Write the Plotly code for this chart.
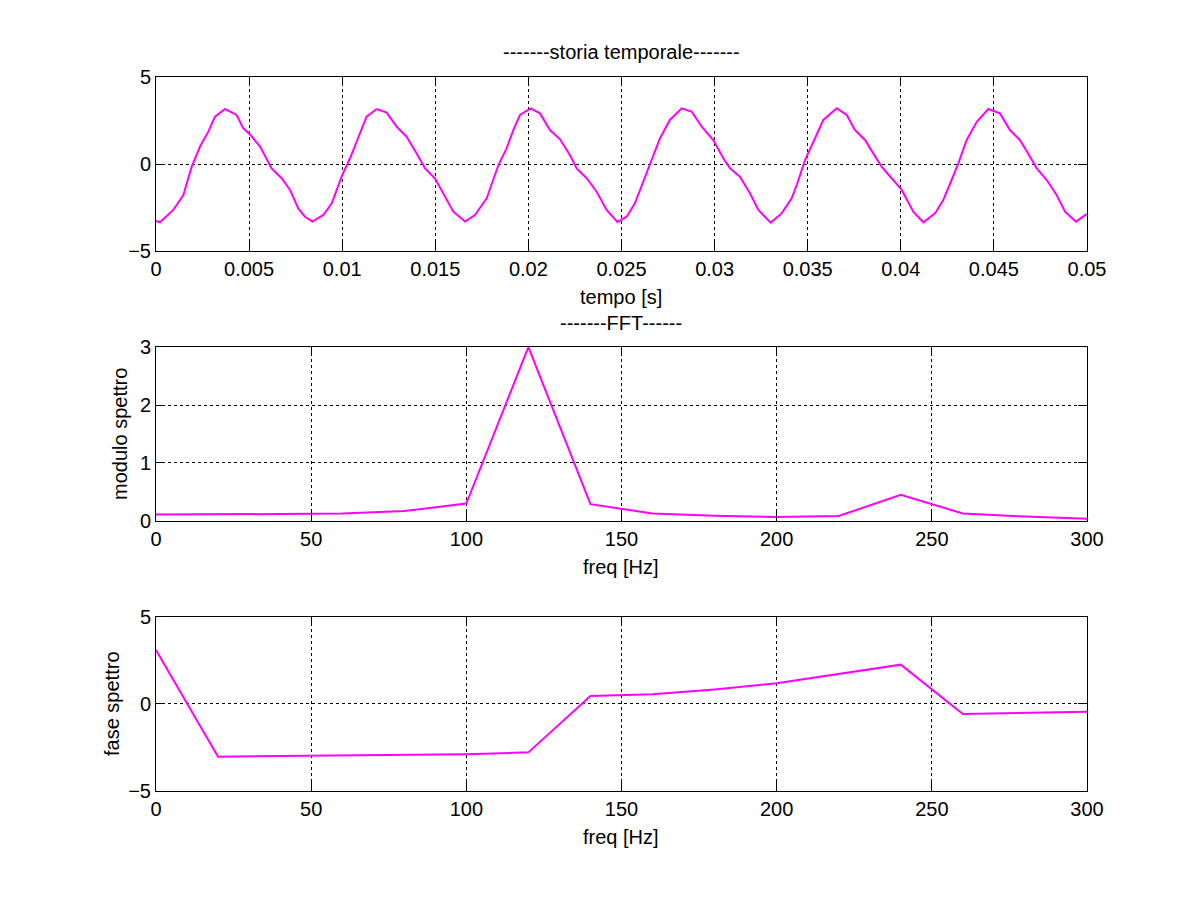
import plotly.graph_objects as go

# storia temporale
tempo = [0.0, 0.00021, 0.00093, 0.00147, 0.00192, 0.00236, 0.00281, 0.00317, 0.00371,
         0.00433, 0.00469, 0.00505, 0.00559, 0.00621, 0.00675, 0.0072, 0.00764, 0.008,
         0.0084, 0.00899, 0.00944, 0.00997, 0.01042, 0.01096, 0.01131, 0.01185, 0.01239,
         0.01293, 0.01346, 0.014, 0.01445, 0.01498, 0.01543, 0.01597, 0.0166, 0.01713,
         0.01776, 0.01839, 0.01883, 0.01919, 0.01955, 0.02012, 0.02062, 0.02116, 0.0217,
         0.02223, 0.02259, 0.02313, 0.02367, 0.0242, 0.02478, 0.02528, 0.02572, 0.02617,
         0.02662, 0.02707, 0.0276, 0.02823, 0.02877, 0.02931, 0.02993, 0.03047, 0.03083,
         0.03136, 0.0319, 0.03235, 0.03301, 0.0336, 0.03414, 0.03441, 0.03486, 0.0353,
         0.03584, 0.03656, 0.0371, 0.03754, 0.03808, 0.03852, 0.03897, 0.03951, 0.04005,
         0.04067, 0.04121, 0.04184, 0.04228, 0.04273, 0.04309, 0.04354, 0.04408, 0.0447,
         0.04533, 0.04586, 0.0464, 0.04694, 0.0473, 0.04784, 0.04837, 0.04882, 0.04941,
         0.04998]
segnale = [-3.28, -3.35, -2.64, -1.78, -0.15, 0.99, 1.86, 2.72, 3.16,
           2.82, 2.05, 1.70, 1.0, -0.25, -0.82, -1.49, -2.55, -3.03,
           -3.31, -2.93, -2.26, -0.73, 0.33, 1.76, 2.72, 3.16, 2.95,
           2.14, 1.57, 0.61, -0.25, -0.82, -1.68, -2.74, -3.31, -2.93,
           -1.97, -0.06, 0.90, 1.95, 2.82, 3.20, 2.91, 1.95, 1.42,
           0.52, -0.25, -0.82, -1.59, -2.64, -3.33, -3.03, -2.26, -1.02,
           0.23, 1.48, 2.53, 3.20, 3.01, 2.14, 1.38, 0.33, -0.25,
           -0.73, -1.68, -2.64, -3.37, -2.84, -1.97, -1.21, 0.23, 1.28,
           2.53, 3.20, 2.82, 1.95, 1.38, 0.61, -0.15, -0.82, -1.49,
           -2.74, -3.35, -2.84, -2.07, -0.92, 0.04, 1.38, 2.43, 3.16,
           2.91, 1.95, 1.38, 0.42, -0.25, -0.92, -1.78, -2.74, -3.31,
           -2.87]

# FFT
freq = [0, 20, 40, 60, 80, 100, 120, 140, 160, 180, 200, 220, 240, 260, 280, 300]
modulo = [0.11, 0.11, 0.12, 0.13, 0.17, 0.30, 3.0, 0.29, 0.13, 0.09, 0.07, 0.086,
          0.45, 0.13, 0.075, 0.04]
fase = [3.10, -3.03, -2.99, -2.95, -2.92, -2.89, -2.78, 0.46, 0.56, 0.84, 1.19, 1.72,
        2.26, -0.57, -0.50, -0.44]

MAG = "#ff00ff"
FONT = "Liberation Sans, Arial, sans-serif"
FS = 20

fig = go.Figure()
fig.add_trace(go.Scatter(x=tempo, y=segnale, mode="lines", line=dict(color=MAG, width=2),
                         xaxis="x", yaxis="y"))
fig.add_trace(go.Scatter(x=freq, y=modulo, mode="lines", line=dict(color=MAG, width=2),
                         xaxis="x2", yaxis="y2"))
fig.add_trace(go.Scatter(x=freq, y=fase, mode="lines", line=dict(color=MAG, width=2),
                         xaxis="x3", yaxis="y3"))

ax = dict(showline=True, linecolor="black", linewidth=1, mirror="allticks",
          ticks="inside", ticklen=9, tickcolor="black", showgrid=True,
          gridcolor="black", griddash="dot", gridwidth=1, zeroline=False,
          tickfont=dict(size=FS, color="black", family=FONT))

# the page has an 8px body margin, so the figure is 16px smaller than the window
fig.update_layout(
    width=1185, height=885,
    margin=dict(l=148, r=106, t=69, b=102),
    paper_bgcolor="white", plot_bgcolor="white",
    showlegend=False,
    font=dict(family=FONT, size=FS, color="black"),
    xaxis=dict(ax, domain=[0, 1], range=[0, 0.05], tickvals=[i * 0.005 for i in range(11)],
               ticktext=["0", "0.005", "0.01", "0.015", "0.02", "0.025", "0.03", "0.035",
                         "0.04", "0.045", "0.05"], anchor="y"),
    yaxis=dict(ax, domain=[0.7563, 1], range=[-5, 5], tickvals=[-5, 0, 5], anchor="x"),
    xaxis2=dict(ax, domain=[0, 1], range=[0, 300], tickvals=[0, 50, 100, 150, 200, 250, 300],
                anchor="y2"),
    yaxis2=dict(ax, domain=[0.3782, 0.6218], range=[0, 3], tickvals=[0, 1, 2, 3], anchor="x2"),
    xaxis3=dict(ax, domain=[0, 1], range=[0, 300], tickvals=[0, 50, 100, 150, 200, 250, 300],
                anchor="y3"),
    yaxis3=dict(ax, domain=[0, 0.2437], range=[-5, 5], tickvals=[-5, 0, 5], anchor="x3"),
)

def px_y(p):
    return (791 - p) / 714

def px_x(p):
    return (p - 156) / 931

labels = [
    ("-------storia temporale-------", px_x(621), px_y(52), 0),
    ("tempo [s]", px_x(621), px_y(297), 0),
    ("-------FFT------", px_x(621), px_y(323), 0),
    ("freq [Hz]", px_x(621), px_y(567), 0),
    ("freq [Hz]", px_x(621), px_y(837), 0),
    ("modulo spettro", px_x(120), px_y(434), -90),
    ("fase spettro", px_x(112), px_y(704), -90),
]
for txt, x, y, ang in labels:
    fig.add_annotation(text=txt, x=x, y=y, xref="paper", yref="paper", showarrow=False,
                       xanchor="center", yanchor="middle", textangle=ang,
                       font=dict(size=FS, color="black", family=FONT))

fig.write_html("out.html")
